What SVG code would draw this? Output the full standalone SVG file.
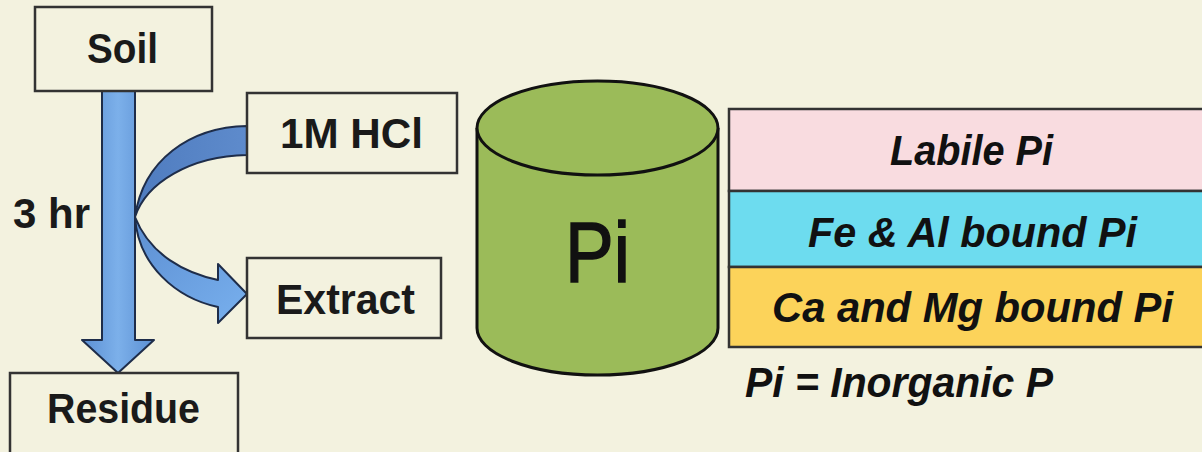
<svg xmlns="http://www.w3.org/2000/svg" width="1202" height="452" viewBox="0 0 1202 452">
<defs>
<linearGradient id="shaft" x1="0" y1="0" x2="1" y2="0">
<stop offset="0" stop-color="#5b8fd3"/><stop offset="0.5" stop-color="#7cb0ea"/><stop offset="1" stop-color="#5b8fd3"/>
</linearGradient>
<linearGradient id="upper" x1="0" y1="0" x2="1" y2="0">
<stop offset="0" stop-color="#4f7cbf"/><stop offset="1" stop-color="#5e8bcc"/>
</linearGradient>
<linearGradient id="lower" x1="0" y1="0" x2="1" y2="1">
<stop offset="0" stop-color="#5d8fd2"/><stop offset="1" stop-color="#78b0ee"/>
</linearGradient>
</defs>
<style>
.box{fill:#f3f2df;stroke:#333;stroke-width:2.5}
.lbl{font-family:"Liberation Sans",Arial,sans-serif;font-weight:bold;font-size:43px;fill:#1a1a1a;text-anchor:start}
.row{stroke:#333;stroke-width:2.5}
.it{font-family:"Liberation Sans",Arial,sans-serif;font-weight:bold;font-style:italic;font-size:43px;fill:#111}
.arr{stroke:#1e2d4a;stroke-width:2;stroke-linejoin:round}
</style>
<rect width="1202" height="452" fill="#f3f2df"/>
<g id="connectors">
<path class="arr" fill="url(#shaft)" d="M102,91 L135,91 L135,340 L154,340 L118,373 L82,340 L102,340 Z"/>
<path class="arr" fill="url(#upper)" d="M247,126 C190,127 143,160 135,217 C146,183 190,156 247,155 Z"/>
<path class="arr" fill="url(#lower)" d="M135,217 C138,265 176,298 218,307 L218,323 L247,294 L218,264 L218,280 C185,273 150,255 135,217 Z"/>
</g>
<g id="soil"><rect class="box" x="35" y="7" width="177" height="84"/><text class="lbl" x="87" y="63" textLength="71" lengthAdjust="spacingAndGlyphs">Soil</text></g>
<g id="hcl"><rect class="box" x="247" y="93" width="210" height="80"/><text class="lbl" x="280" y="148" textLength="143" lengthAdjust="spacingAndGlyphs">1M HCl</text></g>
<g id="extract"><rect class="box" x="247" y="258" width="194" height="80"/><text class="lbl" x="276" y="314" textLength="139" lengthAdjust="spacingAndGlyphs">Extract</text></g>
<g id="residue"><rect class="box" x="10" y="373" width="228" height="90"/><text class="lbl" x="47" y="423" textLength="153" lengthAdjust="spacingAndGlyphs">Residue</text></g>
<g id="time"><text class="lbl" x="13" y="228" textLength="77" lengthAdjust="spacingAndGlyphs">3 hr</text></g>
<g id="cylinder">
<path d="M477,128 L477,328 A120.5,47 0 0 0 718,328 L718,128" fill="#9bbb59" stroke="#111" stroke-width="3"/>
<ellipse cx="597.5" cy="128" rx="120.5" ry="47" fill="#9bbb59" stroke="#111" stroke-width="3"/>
<text x="565" y="282" font-family="'Liberation Sans',Arial,sans-serif" font-size="86" fill="#111" stroke="#111" stroke-width="1.5" textLength="65" lengthAdjust="spacingAndGlyphs">Pi</text>
</g>
<g id="pools">
<rect class="row" x="729" y="109" width="480" height="82" fill="#f9dce0"/>
<rect class="row" x="729" y="191" width="480" height="76" fill="#6ddcef"/>
<rect class="row" x="729" y="267" width="480" height="80" fill="#fcd35a"/>
<text class="it" x="890" y="165" textLength="163" lengthAdjust="spacingAndGlyphs">Labile Pi</text>
<text class="it" x="808" y="247" textLength="329" lengthAdjust="spacingAndGlyphs">Fe &amp; Al bound Pi</text>
<text class="it" x="772" y="322" textLength="401" lengthAdjust="spacingAndGlyphs">Ca and Mg bound Pi</text>
</g>
<g id="legend"><text class="it" x="745" y="397" textLength="308" lengthAdjust="spacingAndGlyphs">Pi = Inorganic P</text></g>
</svg>
